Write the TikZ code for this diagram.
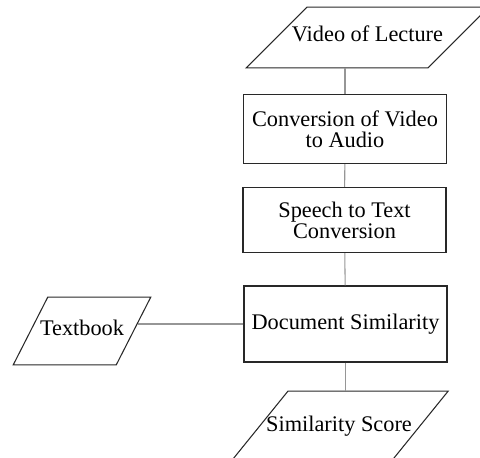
\documentclass[tikz,border=0pt]{standalone}
\usepackage{fontspec}
\setmainfont{Liberation Serif}
\usepackage{xcolor}
\usepackage{tikz}
\usetikzlibrary{shapes.geometric}
\definecolor{boxline}{RGB}{40,40,40}
\definecolor{linkline}{RGB}{150,150,150}

\begin{document}
\begin{tikzpicture}[x=0.02cm, y=-0.02cm,
  every node/.style={font=\fontsize{12.7}{11.8}\selectfont},
  stepbox/.style={draw=boxline, line width=0.6pt, rectangle, minimum width=4.06cm, align=center, inner sep=1pt},
  iobox/.style={draw=boxline, line width=0.6pt, trapezium, text height=0.7em, text depth=0.2em},
  link/.style={draw=linkline, line width=0.6pt}]
\path[use as bounding box, clip] (0,0) rectangle (480,457);

\node[iobox, trapezium left angle=45, trapezium right angle=135, inner xsep=-0.3cm, inner ysep=0.45cm] (video) at (367.5,37.5) {Video of Lecture};
\node[stepbox, minimum height=1.38cm] (conv) at (345,129) {Conversion of Video\\to Audio};
\node[stepbox, minimum height=1.3cm] (speech) at (344.5,220) {Speech to Text\\Conversion};
\node[stepbox, minimum height=1.52cm] (doc) at (345.5,324) {Document Similarity};
\node[iobox, trapezium left angle=63, trapezium right angle=117, inner xsep=-0.155cm, inner ysep=0.52cm] (textbook) at (82,331) {Textbook};
\node[iobox, trapezium left angle=51, trapezium right angle=129, inner xsep=-0.436cm, inner ysep=0.56cm] (score) at (339,427) {Similarity Score};

\draw[link] (conv.north) -- (conv.north |- video.south);
\draw[link] (conv) -- (speech);
\draw[link] (speech) -- (doc);
\draw[link] (doc.west) -- (doc.west -| textbook.8);
\draw[link] (doc.south) -- (doc.south |- score.north);
\end{tikzpicture}
\end{document}
